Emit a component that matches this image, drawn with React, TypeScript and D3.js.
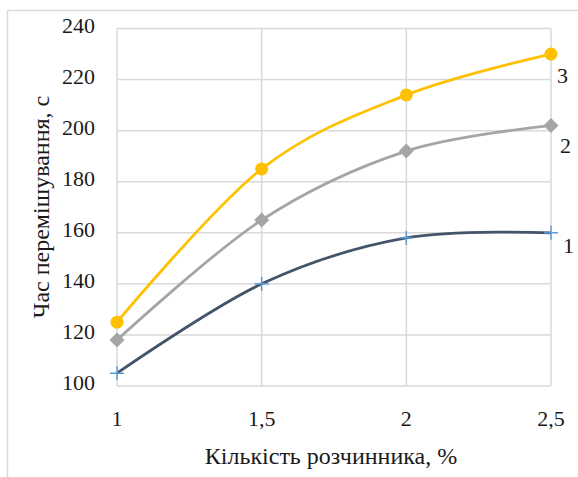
import React from "react";
import * as d3 from "d3";

const xValues = [1, 1.5, 2, 2.5];
const xTickLabels = ["1", "1,5", "2", "2,5"];
const yTicks = [100, 120, 140, 160, 180, 200, 220, 240];
const series1 = [105, 140, 158, 160];
const series2 = [118, 165, 192, 202];
const series3 = [125, 185, 214, 230];
const seriesLabels = ["1", "2", "3"];
const xTitle = "Кількість розчинника, %";
const yTitle = "Час перемішування, с";

const W = 578;
const H = 477;
const FONT = "Liberation Serif";

export default function App() {
  const x = d3.scaleLinear().domain([1, 2.5]).range([117, 551]);
  const y = d3.scaleLinear().domain([100, 240]).range([386, 28.5]);
  const line = d3
    .line<number>()
    .x((_, i) => x(xValues[i]))
    .y((d) => y(d))
    .curve(d3.curveCardinal.tension(0));

  const grid = "#D9D9D9";
  const c1 = "#44546A";
  const c1m = "#5B9BD5";
  const c2 = "#A5A5A5";
  const c3 = "#FFC000";

  const labelPos = [
    { s: series1, dx: 12, dy: 20 },
    { s: series2, dx: 9, dy: 27 },
    { s: series3, dx: 6, dy: 29 },
  ];

  const ts = { fontFamily: FONT };

  return (
    <svg
      width={W}
      height={H}
      style={{ position: "absolute", left: 0, top: 0, background: "#fff" }}
    >
      <rect x={7.5} y={10.5} width={580} height={480} fill="#fff" stroke={grid} strokeWidth={1.5} />
      {yTicks.map((t) => (
        <line key={"h" + t} x1={x(1)} x2={x(2.5)} y1={y(t)} y2={y(t)} stroke={grid} strokeWidth={1.5} />
      ))}
      {xValues.map((v) => (
        <line key={"v" + v} x1={x(v)} x2={x(v)} y1={y(240)} y2={y(100)} stroke={grid} strokeWidth={1.5} />
      ))}
      {yTicks.map((t) => (
        <text key={"yl" + t} x={95} y={y(t) + 4} textAnchor="end" fontSize={22} fill="#1a1a1a" style={ts}>
          {t}
        </text>
      ))}
      {xValues.map((v, i) => (
        <text key={"xl" + v} x={x(v)} y={426} textAnchor="middle" fontSize={22} fill="#1a1a1a" style={ts}>
          {xTickLabels[i]}
        </text>
      ))}
      <text x={331} y={464} textAnchor="middle" fontSize={24} fill="#1a1a1a" style={ts}>
        {xTitle}
      </text>
      <text
        transform={`translate(49,207) rotate(-90)`}
        textAnchor="middle"
        fontSize={24}
        fill="#1a1a1a"
        style={ts}
      >
        {yTitle}
      </text>
      <path d={line(series1) || ""} fill="none" stroke={c1} strokeWidth={2.75} />
      <path d={line(series2) || ""} fill="none" stroke={c2} strokeWidth={2.75} />
      <path d={line(series3) || ""} fill="none" stroke={c3} strokeWidth={2.75} />
      {series1.map((v, i) => {
        const cx = x(xValues[i]);
        const cy = y(v);
        return (
          <g key={"m1" + i} stroke={c1m} strokeWidth={1.5}>
            <line x1={cx - 7} x2={cx + 7} y1={cy} y2={cy} />
            <line x1={cx} x2={cx} y1={cy - 7} y2={cy + 7} />
          </g>
        );
      })}
      {series2.map((v, i) => {
        const cx = x(xValues[i]);
        const cy = y(v);
        const r = 7.5;
        return (
          <path
            key={"m2" + i}
            d={`M${cx},${cy - r}L${cx + r},${cy}L${cx},${cy + r}L${cx - r},${cy}Z`}
            fill={c2}
          />
        );
      })}
      {series3.map((v, i) => (
        <circle key={"m3" + i} cx={x(xValues[i])} cy={y(v)} r={6.5} fill={c3} />
      ))}
      {labelPos.map((lp, i) => {
        const last = lp.s[lp.s.length - 1];
        return (
          <text
            key={"sl" + i}
            x={x(2.5) + lp.dx}
            y={y(last) + lp.dy}
            textAnchor="start"
            fontSize={22}
            fill="#1a1a1a"
            style={ts}
          >
            {seriesLabels[i]}
          </text>
        );
      })}
    </svg>
  );
}
